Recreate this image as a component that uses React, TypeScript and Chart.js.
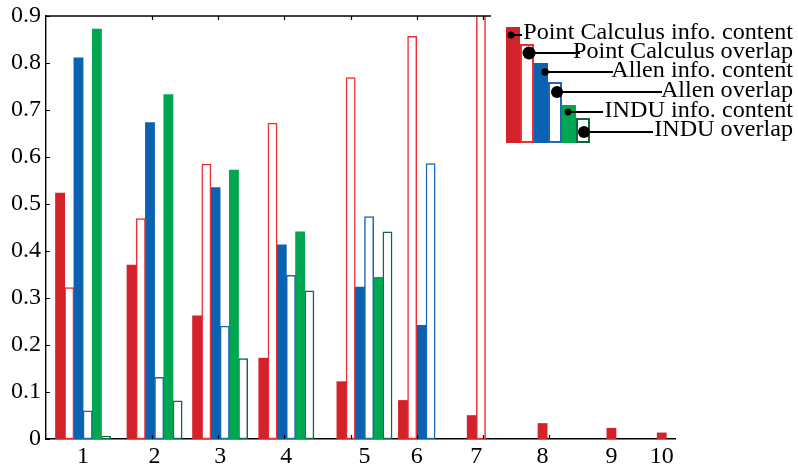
import React, { useEffect, useRef } from 'react';
import { Chart, registerables } from 'chart.js';

Chart.register(...registerables);

// ---- data ----
const categories = ['1', '2', '3', '4', '5', '6', '7', '8', '9', '10'];
const groupPositions = [0.96, 2.04, 3.03, 4.03, 5.21, 6.0, 6.9, 7.9, 8.94, 9.7];
const pcInfo = [0.523, 0.37, 0.262, 0.172, 0.122, 0.082, 0.05, 0.033, 0.023, 0.013];
const pcOverlap = [0.322, 0.469, 0.585, 0.672, 0.769, 0.857, 0.92, null, null, null];
const allenInfo = [0.811, 0.673, 0.535, 0.413, 0.323, 0.242, null, null, null, null];
const allenOverlap = [0.06, 0.131, 0.24, 0.348, 0.473, 0.586, null, null, null, null];
const induInfo = [0.872, 0.733, 0.572, 0.441, 0.344, null, null, null, null, null];
const induOverlap = [0.006, 0.081, 0.171, 0.315, 0.441, null, null, null, null, null];
const seriesNames = [
  'Point Calculus info. content',
  'Point Calculus overlap',
  'Allen info. content',
  'Allen overlap',
  'INDU info. content',
  'INDU overlap',
];
const yTickValues = [0, 0.1, 0.2, 0.3, 0.4, 0.5, 0.6, 0.7, 0.8, 0.9];
const yTickLabels = ['0', '0.1', '0.2', '0.3', '0.4', '0.5', '0.6', '0.7', '0.8', '0.9'];
const bottomTickValues = [2, 3, 4, 5, 6, 7, 8];
const topTickValues = [2, 3, 4, 5, 6, 7];
const xMin = 0.4;
const xMax = 9.9;
const topAxisEnd = 7.12;

const SERIF = "'Liberation Serif', 'Times New Roman', serif";

const styles = [
  { fill: '#d2232a', stroke: null },
  { fill: '#ffffff', stroke: '#ee2d35' },
  { fill: '#0b62b0', stroke: null },
  { fill: '#ffffff', stroke: '#1a68b6' },
  { fill: '#00a650', stroke: null },
  { fill: '#ffffff', stroke: '#10693a' },
];

// legend decoration layout
const legendBarLeft = 506;
const legendBarWidth = 14;
const legendBarBottom = 143;
const legendBarTops = [27, 44, 63, 82, 105, 118];
const legendDots = [
  { x: 511, y: 35, r: 3.5, end: 522 },
  { x: 529, y: 53, r: 6.5, end: 580 },
  { x: 545, y: 72, r: 3.7, end: 613 },
  { x: 557, y: 92, r: 6, end: 662 },
  { x: 568, y: 112, r: 3.4, end: 603 },
  { x: 584, y: 132, r: 6, end: 653 },
];
const legendTextRight = 793;
const legendBaselines = [39, 58, 77, 97, 117, 136];

const decorPlugin = {
  id: 'decor',
  afterDraw(chart: any) {
    const { ctx, chartArea, scales } = chart;
    const xs = scales.x;
    const ys = scales.y;
    ctx.save();
    ctx.strokeStyle = '#000';
    ctx.lineWidth = 1.4;
    // top axis line
    ctx.beginPath();
    ctx.moveTo(chartArea.left, chartArea.top);
    ctx.lineTo(xs.getPixelForValue(topAxisEnd), chartArea.top);
    ctx.stroke();
    // inward ticks
    ctx.lineWidth = 1.2;
    ctx.beginPath();
    topTickValues.forEach((v) => {
      const px = Math.round(xs.getPixelForValue(v)) + 0.5;
      ctx.moveTo(px, chartArea.top);
      ctx.lineTo(px, chartArea.top + 4);
    });
    bottomTickValues.forEach((v) => {
      const px = Math.round(xs.getPixelForValue(v)) + 0.5;
      ctx.moveTo(px, chartArea.bottom);
      ctx.lineTo(px, chartArea.bottom - 4);
    });
    yTickValues.forEach((v) => {
      const py = Math.round(ys.getPixelForValue(v)) + 0.5;
      ctx.moveTo(chartArea.left, py);
      ctx.lineTo(chartArea.left + 4, py);
    });
    ctx.stroke();

    // legend bars
    styles.forEach((s, i) => {
      const x = legendBarLeft + i * legendBarWidth;
      const top = legendBarTops[i];
      ctx.fillStyle = s.fill;
      ctx.fillRect(x, top, legendBarWidth, legendBarBottom - top);
      if (s.stroke) {
        ctx.strokeStyle = s.stroke;
        ctx.lineWidth = 2;
        ctx.strokeRect(x + 1, top + 1, legendBarWidth - 2, legendBarBottom - top - 2);
      }
    });
    // dots + connectors
    ctx.fillStyle = '#000';
    ctx.strokeStyle = '#000';
    ctx.lineWidth = 2;
    legendDots.forEach((d) => {
      ctx.beginPath();
      ctx.moveTo(d.x, d.y);
      ctx.lineTo(d.end, d.y);
      ctx.stroke();
      ctx.beginPath();
      ctx.arc(d.x, d.y, d.r, 0, Math.PI * 2);
      ctx.fill();
    });
    // labels
    ctx.font = `23px ${SERIF}`;
    ctx.textAlign = 'right';
    ctx.textBaseline = 'alphabetic';
    seriesNames.forEach((name, i) => {
      ctx.save();
      ctx.translate(legendTextRight, legendBaselines[i]);
      ctx.scale(1.05, 1);
      ctx.fillText(name, 0, 0);
      ctx.restore();
    });
    ctx.restore();
  },
};

export default function App() {
  const ref = useRef<HTMLCanvasElement>(null);

  useEffect(() => {
    const all = [pcInfo, pcOverlap, allenInfo, allenOverlap, induInfo, induOverlap];
    const datasets = all.map((vals, si) => ({
      label: seriesNames[si],
      data: groupPositions.map((x, i) => ({ x, y: vals[i] })),
      backgroundColor: styles[si].fill,
      borderColor: styles[si].stroke || styles[si].fill,
      borderWidth: styles[si].stroke ? 1.5 : 0,
      borderSkipped: false,
      barThickness: 9.2,
      skipNull: true,
      grouped: true,
    }));
    const chart = new Chart(ref.current!, {
      type: 'bar',
      data: { datasets } as any,
      options: {
        animation: false,
        responsive: false,
        maintainAspectRatio: false,
        layout: { padding: { top: 16, right: 123, left: 0, bottom: 0 } },
        plugins: { legend: { display: false }, tooltip: { enabled: false } },
        scales: {
          x: {
            type: 'linear',
            min: xMin,
            max: xMax,
            offset: false,
            grid: { display: false, drawTicks: false },
            border: { display: true, color: '#000', width: 1.4 },
            afterBuildTicks: (scale: any) => {
              scale.ticks = groupPositions.map((v) => ({ value: v }));
            },
            afterFit: (scale: any) => {
              scale.height = 25;
              scale.paddingLeft = 0;
              scale.paddingRight = 0;
            },
            ticks: {
              autoSkip: false,
              maxRotation: 0,
              minRotation: 0,
              padding: 3,
              color: '#000',
              font: { family: SERIF, size: 24 },
              callback: (_v: any, i: number) => categories[i],
            },
          },
          y: {
            min: 0,
            max: 0.9,
            grid: { display: false, drawTicks: false },
            border: { display: true, color: '#000', width: 1.4 },
            afterBuildTicks: (scale: any) => {
              scale.ticks = yTickValues.map((v) => ({ value: v }));
            },
            afterFit: (scale: any) => {
              scale.width = 46;
              scale.paddingTop = 0;
              scale.paddingBottom = 0;
            },
            ticks: {
              padding: 5,
              color: '#000',
              font: { family: SERIF, size: 24 },
              callback: (_v: any, i: number) => yTickLabels[i],
            },
          },
        },
      } as any,
      plugins: [decorPlugin],
    });
    return () => chart.destroy();
  }, []);

  return (
    <div style={{ position: 'absolute', left: 0, top: 0, width: 798, height: 464, background: '#fff' }}>
      <canvas ref={ref} width={798} height={464} style={{ display: 'block', width: 798, height: 464 }} />
    </div>
  );
}
